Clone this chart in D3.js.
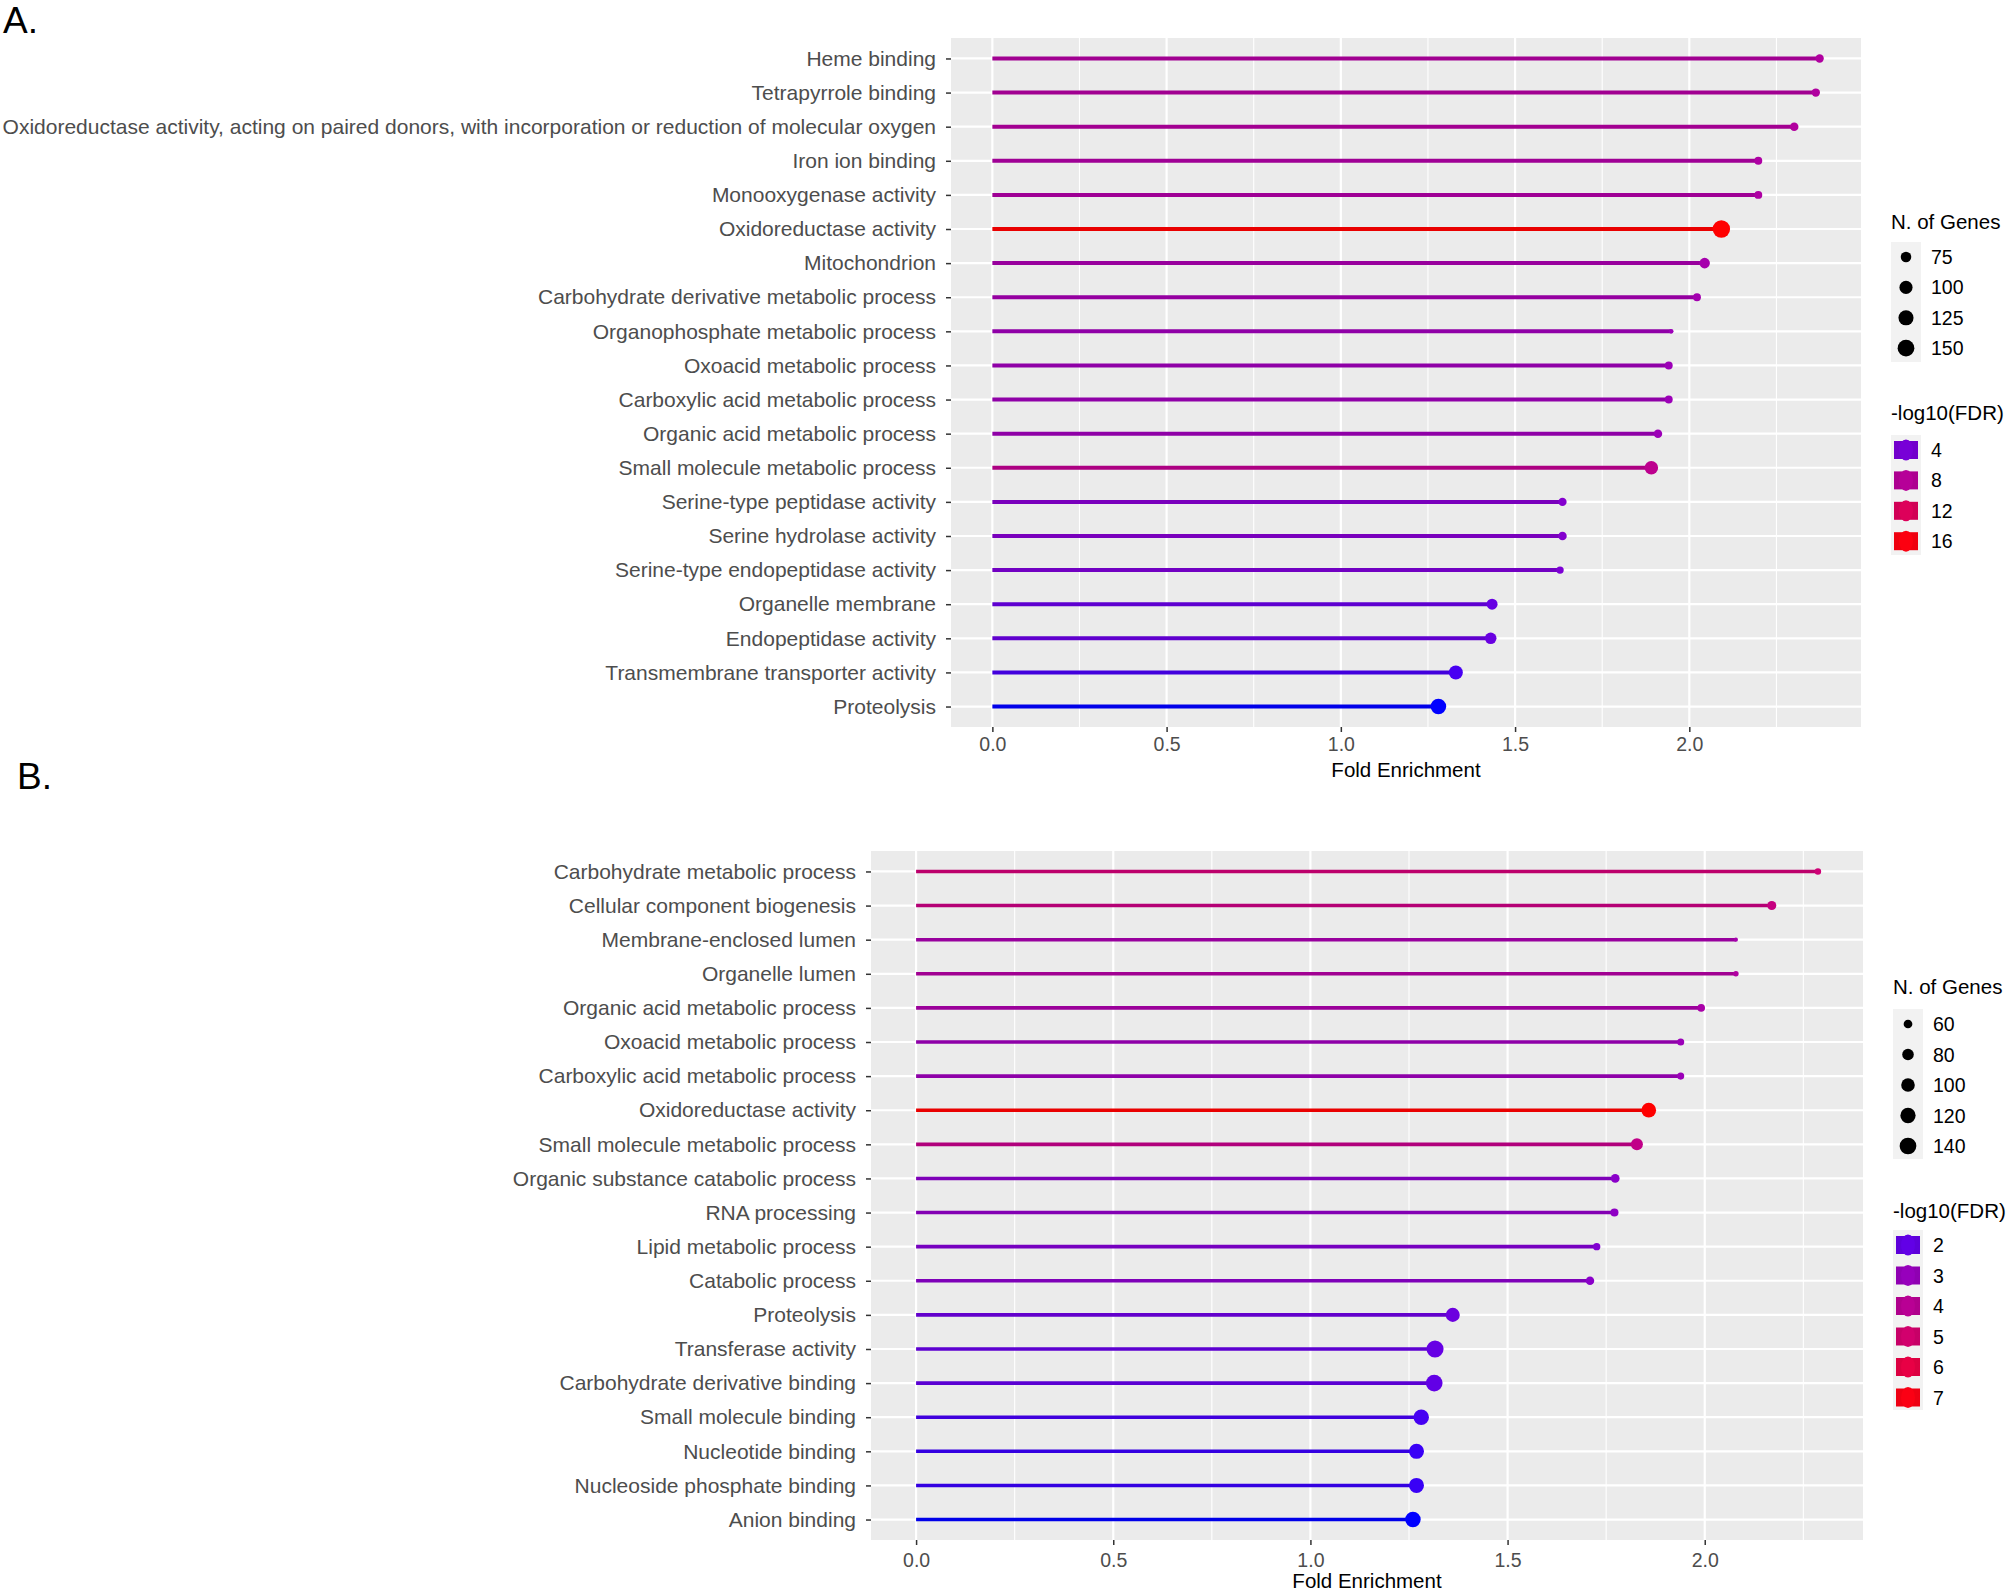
<!DOCTYPE html>
<html><head><meta charset="utf-8">
<script src="https://cdn.jsdelivr.net/npm/d3@7"></script>
<style>
body{margin:0;background:#fff}
svg{display:block}
text{font-family:"Liberation Sans", Arial, Helvetica, sans-serif}
</style>
</head><body>
<svg id="c" width="2008" height="1590"></svg>
<script>
// ---------------- DATA ----------------
const termsA = [
  "Heme binding","Tetrapyrrole binding",
  "Oxidoreductase activity, acting on paired donors, with incorporation or reduction of molecular oxygen",
  "Iron ion binding","Monooxygenase activity","Oxidoreductase activity","Mitochondrion",
  "Carbohydrate derivative metabolic process","Organophosphate metabolic process",
  "Oxoacid metabolic process","Carboxylic acid metabolic process","Organic acid metabolic process",
  "Small molecule metabolic process","Serine-type peptidase activity","Serine hydrolase activity",
  "Serine-type endopeptidase activity","Organelle membrane","Endopeptidase activity",
  "Transmembrane transporter activity","Proteolysis"];
const foldA  = [2.374,2.363,2.301,2.198,2.198,2.092,2.044,2.022,1.948,1.941,1.941,1.910,1.891,1.636,1.636,1.629,1.434,1.430,1.330,1.280];
const genesA = [61,61,62,59,59,161,75,59,52,59,59,62,105,61,62,57,79,84,111,132];
const fdrA   = [7.5,7.5,7.6,7.3,7.3,16.4,6.7,6.5,6.0,6.0,6.0,6.0,8.6,4.6,4.6,4.2,3.3,3.4,2.4,1.6];

const termsB = [
  "Carbohydrate metabolic process","Cellular component biogenesis","Membrane-enclosed lumen",
  "Organelle lumen","Organic acid metabolic process","Oxoacid metabolic process",
  "Carboxylic acid metabolic process","Oxidoreductase activity","Small molecule metabolic process",
  "Organic substance catabolic process","RNA processing","Lipid metabolic process","Catabolic process",
  "Proteolysis","Transferase activity","Carbohydrate derivative binding","Small molecule binding",
  "Nucleotide binding","Nucleoside phosphate binding","Anion binding"];
const foldB  = [2.287,2.170,2.079,2.079,1.991,1.939,1.939,1.858,1.828,1.773,1.771,1.726,1.709,1.361,1.316,1.314,1.281,1.269,1.269,1.260];
const genesB = [51,62,48,49,55,53,53,113,84,60,57,54,59,105,146,140,123,117,117,123];
const fdrB   = [4.8,4.5,3.4,3.7,3.5,3.1,3.1,7.2,4.3,2.7,2.8,2.5,2.7,2.15,2.05,2.0,1.7,1.6,1.6,1.4];

const xTickValues = [0.0,0.5,1.0,1.5,2.0];
const sizeBreaksA  = [75,100,125,150];
const colorBreaksA = [4,8,12,16];
const sizeBreaksB  = [60,80,100,120,140];
const colorBreaksB = [2,3,4,5,6,7];

// ---------------- DRAW ----------------
const svg = d3.select("#c");
svg.append("rect").attr("width",2008).attr("height",1590).attr("fill","#fff");

function panel(o){
  const g = svg.append("g");
  const mx = d3.max(o.fold);
  const x = d3.scaleLinear().domain([-0.05*mx, 1.05*mx]).range([o.left,o.right]);
  const y = d3.scalePoint().domain(o.terms).range([o.top,o.bottom]).padding(0.6);
  const col = d3.scaleLinear().domain(d3.extent(o.fdr)).range(["#0000ff","#ff0000"]).interpolate(d3.interpolateLab);
  const [nmin,nmax] = d3.extent(o.genes);
  const diam = n => o.dmin + (o.dmax-o.dmin)*Math.sqrt(Math.max(0,(n-nmin)/(nmax-nmin)));

  g.append("rect").attr("x",o.left).attr("y",o.top)
    .attr("width",o.right-o.left).attr("height",o.bottom-o.top).attr("fill","#EBEBEB");
  const dom = x.domain();
  const minor = Array.from(new Set(xTickValues.flatMap(t=>[t-0.25,t+0.25])))
    .filter(t=>t>dom[0]&&t<dom[1] && !xTickValues.includes(t));
  g.selectAll(".mn").data(minor).join("line")
    .attr("x1",d=>x(d)).attr("x2",d=>x(d)).attr("y1",o.top).attr("y2",o.bottom)
    .attr("stroke","#fff").attr("stroke-width",1.1);
  g.selectAll(".mj").data(xTickValues).join("line")
    .attr("x1",d=>x(d)).attr("x2",d=>x(d)).attr("y1",o.top).attr("y2",o.bottom)
    .attr("stroke","#fff").attr("stroke-width",2.2);
  g.selectAll(".hy").data(o.terms).join("line")
    .attr("x1",o.left).attr("x2",o.right).attr("y1",d=>y(d)).attr("y2",d=>y(d))
    .attr("stroke","#fff").attr("stroke-width",2.2);

  const data = o.terms.map((t,i)=>({t, f:o.fold[i], n:o.genes[i], q:o.fdr[i]}));
  g.selectAll(".seg").data(data).join("line")
    .attr("x1",x(0)).attr("x2",d=>x(d.f)).attr("y1",d=>y(d.t)).attr("y2",d=>y(d.t))
    .attr("stroke",d=>d3.color(col(d.q)).darker(0.25)).attr("stroke-width",o.lw);
  g.selectAll(".pt").data(data).join("circle")
    .attr("cx",d=>x(d.f)).attr("cy",d=>y(d.t)).attr("r",d=>diam(d.n)/2)
    .attr("fill",d=>col(d.q));

  // axes
  const ax = g.append("g").attr("transform",`translate(0,${o.bottom})`)
    .call(d3.axisBottom(x).tickValues(xTickValues).tickFormat(d3.format(".1f")).tickSize(5).tickPadding(o.xpad));
  ax.select(".domain").remove();
  ax.selectAll("line").attr("stroke","#333").attr("stroke-width",1.5);
  ax.selectAll("text").attr("fill","#4D4D4D").attr("font-size",19.5).attr("font-family",null);

  const ay = g.append("g").attr("transform",`translate(${o.left},0)`)
    .call(d3.axisLeft(y).tickSize(5).tickPadding(10));
  ay.select(".domain").remove();
  ay.selectAll("line").attr("stroke","#333").attr("stroke-width",1.5);
  ay.selectAll("text").attr("fill","#4D4D4D").attr("font-size",21).attr("font-family",null);

  g.append("text").attr("x",(o.left+o.right)/2).attr("y",o.titleY)
    .attr("text-anchor","middle").attr("font-size",20.5).attr("fill","#000").text("Fold Enrichment");

  // legends
  const L = o.leg;
  g.append("text").attr("x",L.x).attr("y",L.sizeTitleY).attr("font-size",20.5).text("N. of Genes");
  const ks = 30;
  g.append("rect").attr("x",L.x).attr("y",L.sizeKey0-ks/2).attr("width",ks)
    .attr("height",ks*o.sizeBreaks.length).attr("fill","#F2F2F2");
  o.sizeBreaks.forEach((b,i)=>{
    const cy = L.sizeKey0 + i*L.step;
    g.append("circle").attr("cx",L.x+ks/2).attr("cy",cy).attr("r",diam(b)/2).attr("fill","#000");
    g.append("text").attr("x",L.x+ks+10).attr("y",cy).attr("dy","0.36em").attr("font-size",19.5).text(b);
  });
  g.append("text").attr("x",L.x).attr("y",L.colTitleY).attr("font-size",20.5).text("-log10(FDR)");
  g.append("rect").attr("x",L.x).attr("y",L.colKey0-ks/2).attr("width",ks)
    .attr("height",ks*o.colorBreaks.length).attr("fill","#F2F2F2");
  o.colorBreaks.forEach((b,i)=>{
    const cy = L.colKey0 + i*L.step;
    const c = col(b);
    g.append("rect").attr("x",L.x+3).attr("y",cy-9).attr("width",24).attr("height",18).attr("fill",d3.color(c).darker(0.15));
    g.append("ellipse").attr("cx",L.x+15).attr("cy",cy).attr("rx",7).attr("ry",10.5).attr("fill",c);
    g.append("text").attr("x",L.x+ks+10).attr("y",cy).attr("dy","0.36em").attr("font-size",19.5).text(b);
  });
}

panel({terms:termsA, fold:foldA, genes:genesA, fdr:fdrA,
  left:951, right:1861, top:38, bottom:727, lw:4, dmin:4.7, dmax:17.4, titleY:777, xpad:5,
  sizeBreaks:sizeBreaksA, colorBreaks:colorBreaksA,
  leg:{x:1891, sizeTitleY:229, sizeKey0:257, colTitleY:420, colKey0:450, step:30.4}});

panel({terms:termsB, fold:foldB, genes:genesB, fdr:fdrB,
  left:871, right:1863, top:851, bottom:1540, lw:3.6, dmin:4.2, dmax:17.1, titleY:1588, xpad:8,
  sizeBreaks:sizeBreaksB, colorBreaks:colorBreaksB,
  leg:{x:1893, sizeTitleY:994, sizeKey0:1024, colTitleY:1218, colKey0:1245, step:30.5}});

svg.append("text").attr("x",3).attr("y",33).attr("font-size",37).attr("fill","#000").text("A.");
svg.append("text").attr("x",17).attr("y",789).attr("font-size",37).attr("fill","#000").text("B.");
</script>
</body></html>
